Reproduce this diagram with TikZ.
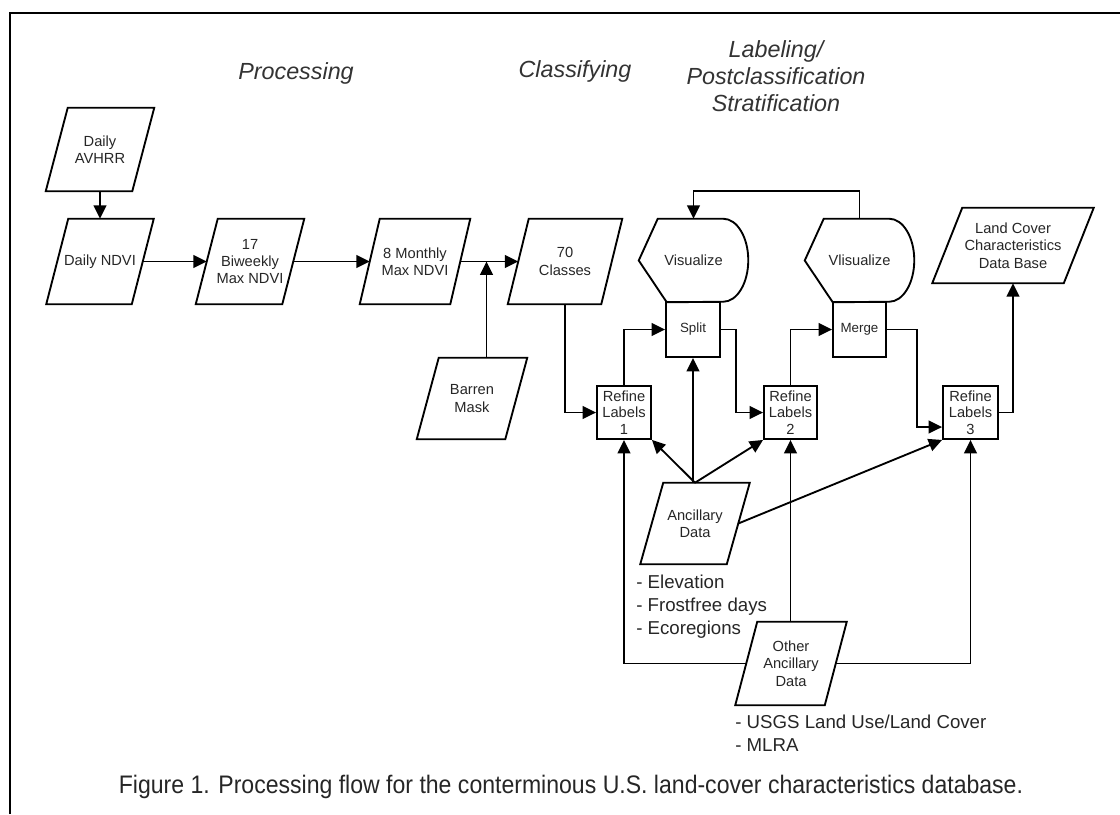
\documentclass[tikz,border=0pt]{standalone}
\usepackage{fontspec}
\setmainfont{Liberation Sans}
\usetikzlibrary{arrows.meta,calc}
\newcommand\pgm[7]{%
  \node[txt,minimum width={#4*0.75pt},minimum height={#5*0.75pt}] (#1) at (#2,#3) {#7};
  \draw[outl] ($(#1.north west)+(#6/2,0)$) -- ($(#1.north east)+(#6/2,0)$) -- ($(#1.south east)-(#6/2,0)$) -- ($(#1.south west)-(#6/2,0)$) -- cycle;}
\newcommand\visshape[4]{%
  \node[txt,minimum width={109*0.75pt},minimum height={83*0.75pt}] (#1) at (#2,#3) {#4};
  \draw[outl] (#1.west) -- ($(#1.north west)+(19,0)$) -- ($(#1.north east)+(-25,0)$) arc[start angle=-90,end angle=90,x radius=25,y radius=41.5] -- ($(#1.south west)+(28,0)$) -- cycle;}
\begin{document}
\begin{tikzpicture}[x=0.75pt,y=-0.75pt,
  txt/.style={inner sep=0pt, align=center, font=\fontsize{11}{13}\selectfont, text=black!85},
  outl/.style={line width=1.4pt, line join=miter},
  rbox/.style={txt, draw, line width=1.4pt, font=\fontsize{11}{12.3}\selectfont},
  arr/.style={line width=1.4pt, -{Triangle[length=10pt,width=9.5pt]}},
  ttl/.style={font=\fontsize{17.5}{20.25}\selectfont\itshape, align=center, text=black!80, inner sep=0pt},
  lst/.style={font=\fontsize{14}{17}\selectfont, align=left, text=black!85, inner sep=0pt, anchor=north west}]
\useasboundingbox (0,0) rectangle (1120,814);
% frame
\draw[line width=1.1pt] (10,814) -- (10,13) -- (1120,13);
% titles
\node[ttl] (t1) at (296,73) {Processing};
\node[ttl] (t2) at (575,71) {Classifying};
\node[ttl] (t3) at (776,76) {Labeling/\\Postclassification\\Stratification};
% parallelograms
\pgm{avhrr}{100}{149.5}{86}{83}{22}{Daily\\AVHRR}
\pgm{ndvi}{100}{261.5}{85}{85}{22}{Daily NDVI}
\pgm{biw}{250}{261.5}{86}{85}{22}{17\\Biweekly\\Max NDVI}
\pgm{mon}{415}{261.5}{90}{85}{20}{8 Monthly\\Max NDVI}
\pgm{cls}{565}{261.5}{93}{85}{21}{70\\Classes}
\pgm{db}{1013}{245.5}{131}{75}{30}{Land Cover\\Characteristics\\Data Base}
\pgm{barren}{472}{398.5}{88}{81}{22}{Barren\\Mask}
\pgm{anc}{695}{523.5}{86}{81}{23}{Ancillary\\Data}
\pgm{oth}{791}{663.5}{89}{83}{22}{Other\\Ancillary\\Data}
% display shapes
\visshape{vis1}{693.5}{260.5}{Visualize}
\visshape{vis2}{859.5}{260.5}{Vlisualize}
% boxes
\node[rbox,minimum width={54*0.75pt},minimum height={55*0.75pt},font=\fontsize{10}{12}\selectfont] (split) at (693,329.5) {Split};
\node[rbox,minimum width={53*0.75pt},minimum height={55*0.75pt},font=\fontsize{10}{12}\selectfont] (merge) at (859.5,329.5) {Merge};
\node[rbox,minimum width={54*0.75pt},minimum height={53*0.75pt}] (r1) at (624,412.5) {Refine\\Labels\\1};
\node[rbox,minimum width={53*0.75pt},minimum height={53*0.75pt}] (r2) at (790.5,412.5) {Refine\\Labels\\2};
\node[rbox,minimum width={55*0.75pt},minimum height={53*0.75pt}] (r3) at (970.5,412.5) {Refine\\Labels\\3};
% lists
\node[lst] (l1) at (636,575) {- Elevation\\- Frostfree days\\- Ecoregions};
\node[lst] (l2) at (735,715) {- USGS Land Use/Land Cover\\- MLRA};
% caption
\node[inner sep=0pt, text=black!85] (cap) at (571,787) {\scalebox{0.91}[1]{\fontsize{19}{22}\selectfont Figure 1. Processing flow for the conterminous U.S. land-cover characteristics database.}};
% connectors
\draw[arr] (avhrr.south) -- (avhrr.south |- ndvi.north);
\draw[arr] (ndvi.east) -- (biw.west);
\draw[arr] (biw.east) -- (mon.west);
\draw[arr] (mon.east) -- (cls.west);
\coordinate (bt) at ($(barren.north)+(14.5,0)$);
\draw[arr] (bt) -- (bt |- mon.east);
\draw[arr] (cls.south) |- (r1.west);
\draw[arr] (r1.north) |- (split.west);
\draw[arr] (split.east) -- ++(15,0) |- (r2.west);
\draw[arr] (r2.north) |- (merge.west);
\draw[arr] (merge.east) -- ++(30,0) |- ($(r3.west)+(0,14.5)$);
\draw[arr] (r3.east) -| (db.south);
\draw[arr] (vis2.north) -- ++(0,-28) -| (vis1.north);
\draw[arr] (anc.north) -- (r1.south east);
\draw[arr] (split.south |- anc.north) -- (split.south);
\draw[arr] (anc.north) -- (r2.south west);
\draw[arr] (anc.east) -- (r3.south west);
\draw[arr] (r2.south |- oth.north) -- (r2.south);
\draw[arr] (oth.west) -| (r1.south);
\draw[arr] (oth.east) -| (r3.south);
\end{tikzpicture}
\end{document}
